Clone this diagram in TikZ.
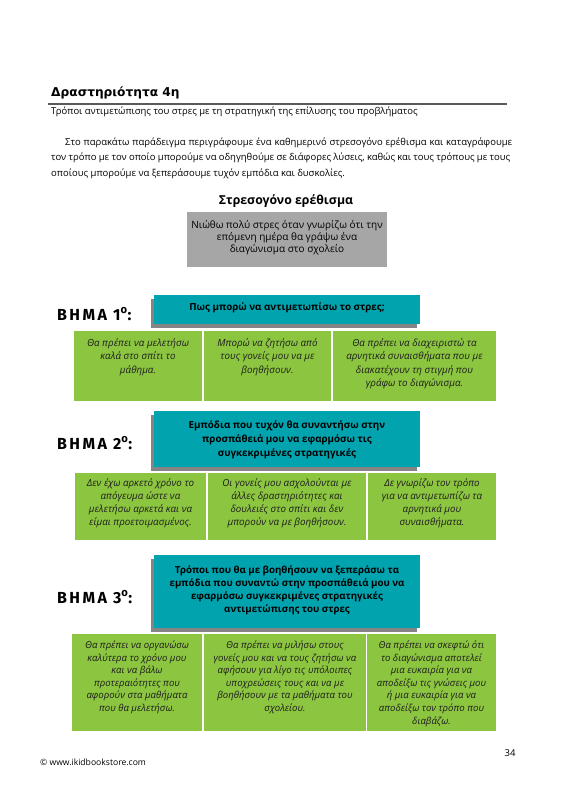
\documentclass[tikz,border=0pt]{standalone}
\usepackage{fontspec}
\setmainfont{Open Sans}
\newfontfamily\stepfont[LetterSpace=15]{Fira Sans}
\newfontfamily\titlefont{DejaVu Sans}
\definecolor{tealc}{HTML}{00A3AE}
\definecolor{greenc}{HTML}{8CC540}
\definecolor{grayc}{HTML}{A6A6A6}
\definecolor{shadowc}{HTML}{858585}
\definecolor{rulec}{HTML}{5A5A5A}
\definecolor{txtc}{HTML}{1E1E1E}
\tikzset{
  box/.style={anchor=north west, inner sep=0, outer sep=0, draw=none},
  tealbox/.style={box, fill=tealc},
  shadowbox/.style={box, fill=shadowc},
  greenbox/.style={box, fill=greenc},
  graybox/.style={box, fill=grayc},
  gtext/.style={anchor=north, align=center, inner sep=0, text=txtc, font=\fontsize{9.8}{13.3}\selectfont\itshape},
  ttext/.style={anchor=north, align=center, inner sep=0, text=black, font=\bfseries\fontsize{9.8}{14}\selectfont},
  steplabel/.style={anchor=base west, inner sep=0, text=black, font=\stepfont\bfseries\fontsize{16}{18}\selectfont},
  paraline/.style={anchor=base west, inner sep=0, font=\fontsize{9.5}{15}\selectfont},
}
\begin{document}
\begin{tikzpicture}[x=1pt,y=-1pt]
\path[fill=white] (0,0) rectangle (570,806);
\useasboundingbox (0,0) rectangle (570,806);

% header
\node[anchor=base west, inner sep=0, font=\titlefont\bfseries\fontsize{12.2}{14}\selectfont] (title) at (51,96.5) {Δραστηριότητα 4η};
\coordinate (rl) at (48,104);
\coordinate (rr) at (507,104);
\draw[rulec, line width=2.4pt] (rl) -- (rr);
\node[anchor=base west, inner sep=0, font=\fontsize{9.45}{12}\selectfont] (subtitle) at (51,114.5) {Τρόποι αντιμετώπισης του στρες με τη στρατηγική της επίλυσης του προβλήματος};
\node[paraline] (p1) at (65,145) {\makebox[447pt][s]{Στο παρακάτω παράδειγμα περιγράφουμε ένα καθημερινό στρεσογόνο ερέθισμα και καταγράφουμε}};
\node[paraline] (p2) at (51,160.5) {\makebox[459pt][s]{τον τρόπο με τον οποίο μπορούμε να οδηγηθούμε σε διάφορες λύσεις, καθώς και τους τρόπους με τους}};
\node[paraline] (p3) at (51,176) {οποίους μπορούμε να ξεπεράσουμε τυχόν εμπόδια και δυσκολίες.};

% stressor
\node[anchor=base, inner sep=0, font=\bfseries\fontsize{12.3}{14}\selectfont] (stresstitle) at (286,204) {Στρεσογόνο ερέθισμα};
\node[graybox, minimum width=200pt, minimum height=55pt] (gray) at (187,212) {};
\node[anchor=north, align=center, inner sep=0, font=\fontsize{10}{12.2}\selectfont] (graytext) at (287,220) {Νιώθω πολύ στρες όταν γνωρίζω ότι την\\επόμενη ημέρα θα γράψω ένα\\διαγώνισμα στο σχολείο};

% step 1
\node[steplabel] (s1) at (57,320) {BHMA 1\textsuperscript{o}:};
\node[shadowbox, minimum width=266pt, minimum height=29pt] (t1s) at (151,299) {};
\node[tealbox, minimum width=266pt, minimum height=29pt] (t1) at (154,295) {};
\node[ttext] (t1t) at (287,302.5) {Πως μπορώ να αντιμετωπίσω το στρες;};
\node[greenbox, minimum width=128pt, minimum height=70pt] (g11) at (74,331) {};
\node[greenbox, minimum width=127pt, minimum height=70pt] (g12) at (204,331) {};
\node[greenbox, minimum width=163pt, minimum height=70pt] (g13) at (333,331) {};
\node[gtext] at (g11.north |- 0,338.5) (g11t) {Θα πρέπει να μελετήσω\\καλά στο σπίτι το\\μάθημα.};
\node[gtext] at (g12.north |- 0,338.5) (g12t) {Μπορώ να ζητήσω από\\τους γονείς μου να με\\βοηθήσουν.};
\node[gtext] at (g13.north |- 0,338.5) (g13t) {Θα πρέπει να διαχειριστώ τα\\αρνητικά συναισθήματα που με\\διακατέχουν τη στιγμή που\\γράφω το διαγώνισμα.};

% step 2
\node[steplabel] (s2) at (57,449) {BHMA 2\textsuperscript{o}:};
\node[shadowbox, minimum width=266pt, minimum height=56pt] (t2s) at (151,415) {};
\node[tealbox, minimum width=266pt, minimum height=56pt] (t2) at (154,411) {};
\node[ttext] (t2t) at (287,420.5) {Εμπόδια που τυχόν θα συναντήσω στην\\προσπάθειά μου να εφαρμόσω τις\\συγκεκριμένες στρατηγικές};
\node[greenbox, minimum width=131pt, minimum height=67pt] (g21) at (75,473) {};
\node[greenbox, minimum width=158pt, minimum height=67pt] (g22) at (208,473) {};
\node[greenbox, minimum width=128pt, minimum height=67pt] (g23) at (368,473) {};
\node[gtext, font=\fontsize{9.8}{13}\selectfont\itshape] at (g21.north |- 0,478.5) (g21t) {Δεν έχω αρκετό χρόνο το\\απόγευμα ώστε να\\μελετήσω αρκετά και να\\είμαι προετοιμασμένος.};
\node[gtext, font=\fontsize{9.8}{13}\selectfont\itshape] at (g22.north |- 0,478.5) (g22t) {Οι γονείς μου ασχολούνται με\\άλλες δραστηριότητες και\\δουλειές στο σπίτι και δεν\\μπορούν να με βοηθήσουν.};
\node[gtext, font=\fontsize{9.8}{13}\selectfont\itshape] at (g23.north |- 0,478.5) (g23t) {Δε γνωρίζω τον τρόπο\\για να αντιμετωπίζω τα\\αρνητικά μου\\συναισθήματα.};

% step 3
\node[steplabel] (s3) at (57,603) {BHMA 3\textsuperscript{o}:};
\node[shadowbox, minimum width=266pt, minimum height=73pt] (t3s) at (151,559) {};
\node[tealbox, minimum width=266pt, minimum height=73pt] (t3) at (154,555) {};
\node[ttext, font=\bfseries\fontsize{9.7}{12.9}\selectfont] (t3t) at (287,565.5) {Τρόποι που θα με βοηθήσουν να ξεπεράσω τα\\εμπόδια που συναντώ στην προσπάθειά μου να\\εφαρμόσω συγκεκριμένες στρατηγικές\\αντιμετώπισης του στρες};
\node[greenbox, minimum width=130pt, minimum height=97pt] (g31) at (72,634) {};
\node[greenbox, minimum width=162pt, minimum height=97pt] (g32) at (204,634) {};
\node[greenbox, minimum width=129pt, minimum height=97pt] (g33) at (367,634) {};
\node[gtext, font=\fontsize{9.6}{12.6}\selectfont\itshape] at (g31.north |- 0,640.5) (g31t) {Θα πρέπει να οργανώσω\\καλύτερα το χρόνο μου\\και να βάλω\\προτεραιότητες που\\αφορούν στα μαθήματα\\που θα μελετήσω.};
\node[gtext, font=\fontsize{9.6}{12.6}\selectfont\itshape] at (g32.north |- 0,640.5) (g32t) {Θα πρέπει να μιλήσω στους\\γονείς μου και να τους ζητήσω να\\αφήσουν για λίγο τις υπόλοιπες\\υποχρεώσεις τους και να με\\βοηθήσουν με τα μαθήματα του\\σχολείου.};
\node[gtext, font=\fontsize{9.6}{12.6}\selectfont\itshape] at (g33.north |- 0,640.5) (g33t) {Θα πρέπει να σκεφτώ ότι\\το διαγώνισμα αποτελεί\\μια ευκαιρία για να\\αποδείξω τις γνώσεις μου\\ή μια ευκαιρία για να\\αποδείξω τον τρόπο που\\διαβάζω.};

% footer
\node[anchor=base west, inner sep=0, font=\fontsize{8.6}{10}\selectfont] (foot) at (40,765) {© www.ikidbookstore.com};
\node[anchor=base, inner sep=0, font=\fontsize{9.5}{11}\selectfont] (page) at (510,756) {34};
\end{tikzpicture}
\end{document}
